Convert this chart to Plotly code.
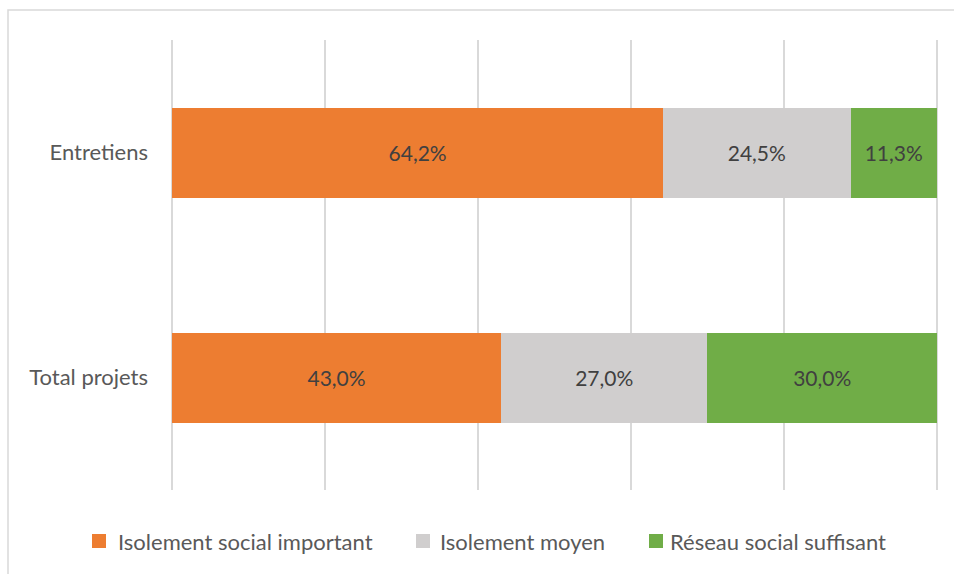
import plotly.graph_objects as go

categories = ["Entretiens", "Total projets"]
series_names = ["Isolement social important", "Isolement moyen", "Réseau social suffisant"]
isolement_important = [64.2, 43.0]
isolement_moyen = [24.5, 27.0]
reseau_suffisant = [11.3, 30.0]
colors = ["#ED7D31", "#D0CECE", "#70AD47"]

FONT = "Lato, 'Open Sans', sans-serif"

# plot area geometry (pixels)
L, T, W, H = 169, 40, 771, 450


def px_x(p):
    return (p - L) / W


def px_y(p):
    return (T + H - p) / H


fig = go.Figure()
for name, vals, col in zip(series_names,
                           [isolement_important, isolement_moyen, reseau_suffisant],
                           colors):
    fig.add_trace(go.Bar(
        y=categories, x=vals, name=name, orientation="h",
        marker=dict(color=col, line=dict(width=0)),
        text=[f"{v:.1f}%".replace(".", ",") for v in vals],
        textposition="inside", insidetextanchor="middle",
        textfont=dict(family=FONT, size=21, color="#404040"),
        hoverinfo="skip", showlegend=False,
    ))

# legend drawn as swatches + labels along the bottom
legend_swatch_px = [92, 416, 649]
legend_text_px = [116, 438, 668]
legend_y_px = 541
shapes = [dict(type="rect", xref="paper", yref="paper",
               x0=px_x(8), x1=1.2, y0=-0.3, y1=px_y(10),
               line=dict(color="#D9D9D9", width=1.5), layer="below")]
annotations = []
for name, col, sx, tx in zip(series_names, colors, legend_swatch_px, legend_text_px):
    shapes.append(dict(type="rect", xref="paper", yref="paper",
                       x0=px_x(sx), x1=px_x(sx + 14),
                       y0=px_y(legend_y_px + 7), y1=px_y(legend_y_px - 7),
                       fillcolor=col, line=dict(width=0)))
    annotations.append(dict(text=name, xref="paper", yref="paper",
                            x=px_x(tx), y=px_y(legend_y_px),
                            xanchor="left", yanchor="middle", showarrow=False,
                            font=dict(family=FONT, size=22, color="#595959")))

fig.update_layout(
    width=954, height=574,
    barmode="stack", bargap=0.6,
    plot_bgcolor="white", paper_bgcolor="white",
    margin=dict(l=L, r=954 - L - W, t=T, b=574 - T - H, pad=0),
    uniformtext=dict(mode="show", minsize=10),
    xaxis=dict(range=[-0.4, 100.4], tickvals=[0, 20, 40, 60, 80, 100],
               showticklabels=False,
               showgrid=True, gridcolor="#D9D9D9", gridwidth=1.5,
               zeroline=False, showline=False, fixedrange=True),
    yaxis=dict(autorange="reversed", showgrid=False, zeroline=False,
               showline=False, ticks="", ticklabelstandoff=20,
               tickfont=dict(family=FONT, size=22, color="#595959")),
    showlegend=False,
    shapes=shapes,
    annotations=annotations,
    font=dict(family=FONT),
)

fig.write_html("out.html")
